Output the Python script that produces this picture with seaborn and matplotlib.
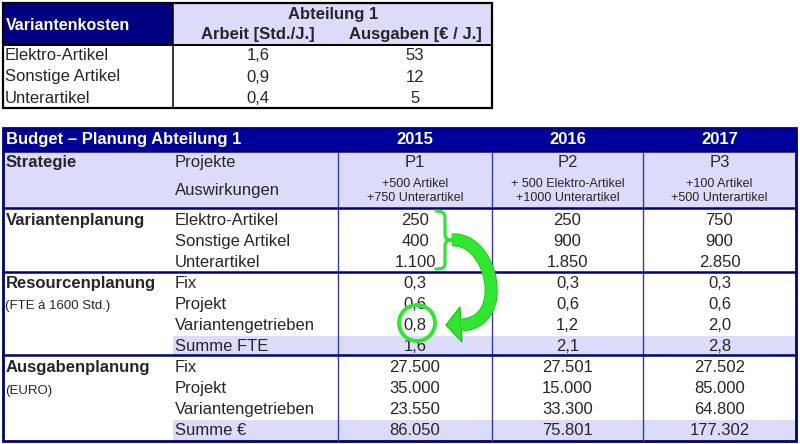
import matplotlib
matplotlib.use("Agg")
import matplotlib.pyplot as plt
import seaborn as sns
from matplotlib.patches import Rectangle, Ellipse, PathPatch, Polygon
from matplotlib.path import Path

# ---------------- data ----------------
top_title = "Variantenkosten"
top_group = "Abteilung 1"
top_cols = ["Arbeit [Std./J.]", "Ausgaben [€ / J.]"]
top_categories = ["Elektro-Artikel", "Sonstige Artikel", "Unterartikel"]
arbeit = [1.6, 0.9, 0.4]
ausgaben = [53, 12, 5]

budget_title = "Budget – Planung Abteilung 1"
years = [2015, 2016, 2017]
projekte = ["P1", "P2", "P3"]
auswirkungen = ["+500 Artikel\n+750 Unterartikel",
                "+ 500 Elektro-Artikel\n+1000 Unterartikel",
                "+100 Artikel\n+500 Unterartikel"]
varianten_labels = ["Elektro-Artikel", "Sonstige Artikel", "Unterartikel"]
var_elektro = [250, 250, 750]
var_sonstige = [400, 900, 900]
var_unter = [1100, 1850, 2850]
fte_labels = ["Fix", "Projekt", "Variantengetrieben", "Summe FTE"]
fte_fix = [0.3, 0.3, 0.3]
fte_projekt = [0.6, 0.6, 0.6]
fte_var = [0.8, 1.2, 2.0]
fte_sum = [1.6, 2.1, 2.8]
eur_labels = ["Fix", "Projekt", "Variantengetrieben", "Summe €"]
eur_fix = [27500, 27501, 27502]
eur_projekt = [35000, 15000, 85000]
eur_var = [23550, 33300, 64800]
eur_sum = [86050, 75801, 177302]


def de_dec(v):
    return f"{v:.1f}".replace(".", ",")


def de_int(v):
    return f"{v:,d}".replace(",", ".")


sns.set_theme(style="white")
plt.rcParams["font.family"] = ["Liberation Sans", "DejaVu Sans"]

NAVY = "#000080"
NAVY2 = "#00009a"
LAV = "#dcdcfa"
GREEN = "#2ee82e"
EDGE_GREEN = "#1fbf1f"

fig = plt.figure(figsize=(8, 4.44), dpi=100)
ax = fig.add_axes([0, 0, 1, 1])
ax.set_xlim(0, 800)
ax.set_ylim(444, 0)
ax.axis("off")

FS = 12
# ---------------- top table ----------------
tx0, tx1, ty0, ty1, thead, tsplit = 3, 492, 3, 108, 45, 173
ax.add_patch(Rectangle((tx0, ty0), tsplit - tx0, thead - ty0, color=NAVY, lw=0))
ax.add_patch(Rectangle((tsplit, ty0), tx1 - tsplit, thead - ty0, color=LAV, lw=0))
ax.text(6, 25, top_title, color="white", fontsize=11.5, fontweight="bold", va="center")
ax.text(333, 15, top_group, fontsize=FS, fontweight="bold", va="center", ha="center")
colx = [258, 415]
for x, t in zip(colx, top_cols):
    ax.text(x, 35, t, fontsize=FS, fontweight="bold", va="center", ha="center")
for i, lab in enumerate(top_categories):
    y = 56 + i * 21
    ax.text(5, y, lab, fontsize=FS, va="center")
    ax.text(colx[0], y, de_dec(arbeit[i]), fontsize=FS, va="center", ha="center")
    ax.text(colx[1], y, str(ausgaben[i]), fontsize=FS, va="center", ha="center")
ax.add_patch(Rectangle((tx0, ty0), tx1 - tx0, ty1 - ty0, fill=False, ec="black", lw=1.6))
ax.plot([tx0, tx1], [thead, thead], color="black", lw=1.4)
ax.plot([tsplit, tsplit], [ty0, ty1], color="black", lw=1.1)

# ---------------- budget table ----------------
bx0, bx1, by0, by1 = 3, 796, 128, 441
title_bot = 151
col_edges = [338, 492, 643, 796]
col_c = [(col_edges[i] + col_edges[i + 1]) / 2 for i in range(3)]
sec1, sec2, sec3 = 208, 272, 355
ax.add_patch(Rectangle((bx0, by0), bx1 - bx0, title_bot - by0, color=NAVY2, lw=0))
ax.add_patch(Rectangle((bx0, title_bot), bx1 - bx0, sec1 - title_bot, color=LAV, lw=0))
ax.add_patch(Rectangle((173, 336), bx1 - 173, sec3 - 336, color=LAV, lw=0))
ax.add_patch(Rectangle((173, 420), bx1 - 173, by1 - 420, color=LAV, lw=0))

ax.text(6, 139.5, budget_title, color="white", fontsize=FS, fontweight="bold", va="center")
for x, yv in zip(col_c, years):
    ax.text(x, 139.5, str(yv), color="white", fontsize=FS, fontweight="bold",
            va="center", ha="center")

LX = 175
ax.text(6, 162, "Strategie", fontsize=FS, fontweight="bold", va="center")
ax.text(LX, 162, "Projekte", fontsize=FS, va="center")
ax.text(LX, 190, "Auswirkungen", fontsize=FS, va="center")
for x, p, a in zip(col_c, projekte, auswirkungen):
    ax.text(x, 162, p, fontsize=FS, va="center", ha="center")
    ax.text(x, 191, a, fontsize=9, va="center", ha="center", linespacing=1.15)

# Variantenplanung
ax.text(6, 220, "Variantenplanung", fontsize=FS, fontweight="bold", va="center")
for i, (lab, vals) in enumerate(zip(varianten_labels, [var_elektro, var_sonstige, var_unter])):
    y = 220 + i * 21
    ax.text(LX, y, lab, fontsize=FS, va="center")
    for x, v in zip(col_c, vals):
        ax.text(x, y, de_int(v), fontsize=FS, va="center", ha="center")

# Resourcenplanung
ax.text(6, 283, "Resourcenplanung", fontsize=FS, fontweight="bold", va="center")
ax.text(5, 306, "(FTE á 1600 Std.)", fontsize=9.5, va="center")
for i, (lab, vals) in enumerate(zip(fte_labels, [fte_fix, fte_projekt, fte_var, fte_sum])):
    y = 283 + i * 21
    ax.text(LX, y, lab, fontsize=FS, va="center")
    for x, v in zip(col_c, vals):
        ax.text(x, y, de_dec(v), fontsize=FS, va="center", ha="center")

# Ausgabenplanung
ax.text(6, 367, "Ausgabenplanung", fontsize=FS, fontweight="bold", va="center")
ax.text(5, 391, "(EURO)", fontsize=9.5, va="center")
for i, (lab, vals) in enumerate(zip(eur_labels, [eur_fix, eur_projekt, eur_var, eur_sum])):
    y = 367 + i * 21
    ax.text(LX, y, lab, fontsize=FS, va="center")
    for x, v in zip(col_c, vals):
        ax.text(x, y, de_int(v), fontsize=FS, va="center", ha="center")

# grid lines
for xe in col_edges[:-1]:
    ax.plot([xe, xe], [title_bot, by1], color="#3a3aa8", lw=1.0)
for ys in [title_bot, sec1, sec2, sec3]:
    ax.plot([bx0, bx1], [ys, ys], color=NAVY, lw=1.8)
ax.add_patch(Rectangle((bx0, by0), bx1 - bx0, by1 - by0, fill=False, ec=NAVY, lw=2.0))

# ---------------- green annotation ----------------
brace = Path(
    [(436, 211), (442, 211), (445, 213), (445, 218),
     (445, 234),
     (445, 238), (447, 240), (452, 240),
     (447, 240), (445, 242), (445, 246),
     (445, 263),
     (445, 268), (442, 269), (436, 269)],
    [Path.MOVETO, Path.CURVE4, Path.CURVE4, Path.CURVE4,
     Path.LINETO,
     Path.CURVE4, Path.CURVE4, Path.CURVE4,
     Path.CURVE4, Path.CURVE4, Path.CURVE4,
     Path.LINETO,
     Path.CURVE4, Path.CURVE4, Path.CURVE4])
ax.add_patch(PathPatch(brace, fill=False, ec=GREEN, lw=2.3, capstyle="round", zorder=5))

body = Path([(452, 240), (492, 237), (511, 322), (462, 325)],
            [Path.MOVETO, Path.CURVE4, Path.CURVE4, Path.CURVE4])
ax.add_patch(PathPatch(body, fill=False, ec=EDGE_GREEN, lw=9.4, capstyle="butt", zorder=6))
ax.add_patch(Polygon([(460, 307), (446, 325), (462, 342)], closed=True,
                     fc=GREEN, ec=EDGE_GREEN, lw=0.9, zorder=7))
ax.add_patch(PathPatch(body, fill=False, ec=GREEN, lw=8.2, capstyle="butt", zorder=8))
ax.add_patch(Ellipse((417, 323), 36, 36, fill=False, ec=GREEN, lw=2.8, zorder=5))

fig.savefig("out.png", dpi=100)
